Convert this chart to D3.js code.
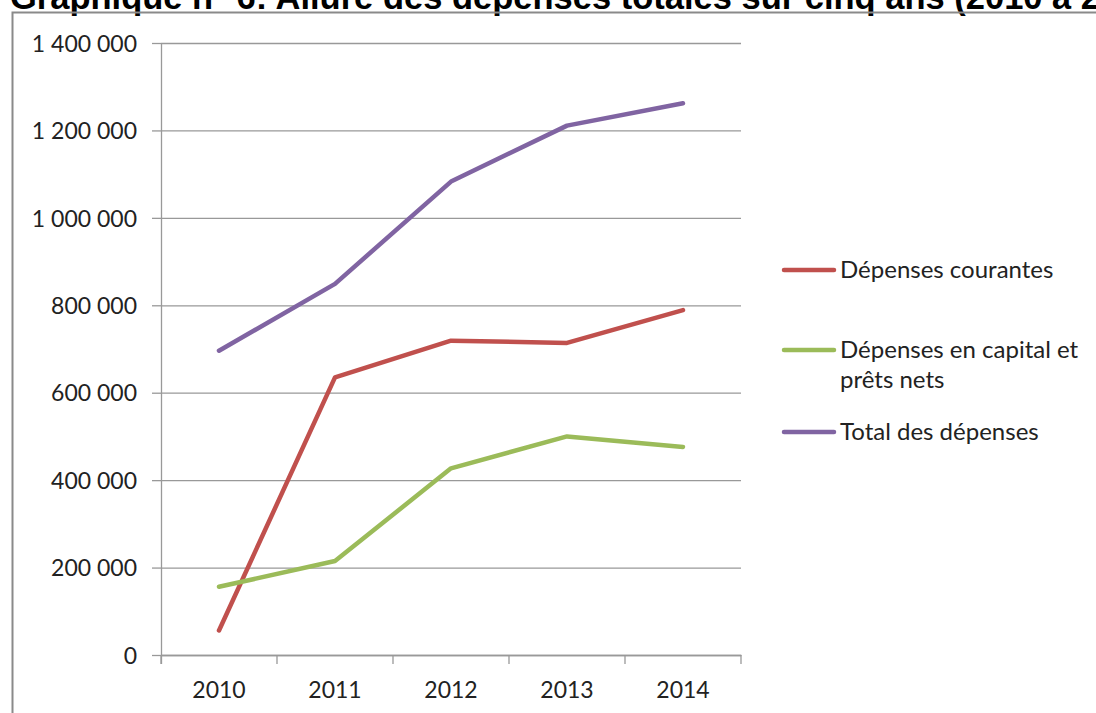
<!DOCTYPE html>
<html lang="fr">
<head>
	<meta charset="UTF-8">
	<title>Graphique</title>
	<style>
		body { margin: 0; background: #fff; }
		svg { display: block; }
		.tick-label { font-family: Lato, "Open Sans", sans-serif; font-size: 23px; fill: #222; }
		.legend text { font-family: Lato, "Open Sans", sans-serif; font-size: 24px; fill: #222; }
	</style>
</head>
<body>
	<script src="https://cdn.jsdelivr.net/npm/d3@7"></script>
	<script>
		var years = ["2010", "2011", "2012", "2013", "2014"];
		var courantes = [56000, 635000, 719000, 714000, 789000];
		var capital = [156000, 215000, 427000, 500000, 476000];
		var total = [696000, 849000, 1083000, 1211000, 1262000];
		var yTicks = [0, 200000, 400000, 600000, 800000, 1000000, 1200000, 1400000];
		var seriesNames = [["Dépenses courantes"], ["Dépenses en capital et", "prêts nets"], ["Total des dépenses"]];
		var seriesColors = ["#c0504d", "#9bbb59", "#8064a2"];

		var width = 1096,
			height = 713,
			plotLeft = 161,
			plotRight = 741,
			plotTop = 43,
			plotBottom = 655;

		var svg = d3.select("body").append("svg")
					.attr("width", width)
					.attr("height", height);

		// titre (coupé en haut dans l'original)
		svg.append("text")
			.attr("x", 10)
			.attr("y", 9)
			.attr("font-family", "Liberation Sans, Arial, sans-serif")
			.attr("font-weight", "bold")
			.attr("font-size", 34.5)
			.attr("fill", "#000")
			.text("Graphique n° 6: Allure des dépenses totales sur cinq ans (2010 à 2014)");

		// cadre
		svg.append("path")
			.attr("d", "M12.5," + height + "V12.5H" + width)
			.attr("fill", "none")
			.attr("stroke", "#8a8a8a")
			.attr("stroke-width", 2);

		var x = d3.scaleBand().domain(years).range([plotLeft, plotRight]);
		var y = d3.scaleLinear().domain([0, 1400000]).range([plotBottom, plotTop]);

		var fr = d3.formatLocale({ decimal: ",", thousands: " ", grouping: [3], currency: ["", " €"] });
		var fmt = fr.format(",.0f");

		// grille + axe Y
		var yAxis = d3.axisLeft(y).tickValues(yTicks).tickSize(9).tickPadding(15).tickFormat(fmt);
		var gy = svg.append("g")
			.attr("class", "y-axis")
			.attr("transform", "translate(" + plotLeft + ",0)")
			.call(yAxis);
		gy.select(".domain").remove();
		gy.selectAll(".tick line").attr("stroke", "#999").attr("stroke-width", 1.3);
		gy.selectAll(".tick text").attr("class", "tick-label").attr("dy", "0.36em");
		gy.selectAll(".tick")
			.append("line")
			.attr("class", "grid-line")
			.attr("stroke", "#999")
			.attr("stroke-width", 1.3)
			.attr("x1", 0)
			.attr("x2", plotRight - plotLeft);

		svg.append("line")
			.attr("x1", plotLeft + 0.5).attr("x2", plotLeft + 0.5)
			.attr("y1", plotTop).attr("y2", plotBottom + 9)
			.attr("stroke", "#999")
			.attr("stroke-width", 1.3);

		// axe X
		var gx = svg.append("g")
			.attr("class", "x-axis")
			.attr("transform", "translate(0," + plotBottom + ")")
			.call(d3.axisBottom(x).tickSize(0).tickPadding(27));
		gx.select(".domain").attr("stroke", "#999").attr("stroke-width", 1.3);
		gx.selectAll(".tick text").attr("class", "tick-label");
		gx.selectAll(".sep")
			.data(years.concat(["end"]))
			.enter().append("line")
			.attr("x1", function(d, i){ return plotLeft + i * x.step(); })
			.attr("x2", function(d, i){ return plotLeft + i * x.step(); })
			.attr("y1", 0)
			.attr("y2", 9)
			.attr("stroke", "#999")
			.attr("stroke-width", 1.3);

		// courbes
		var line = d3.line()
			.x(function(d, i){ return x(years[i]) + x.bandwidth() / 2; })
			.y(function(d){ return y(d); });

		[courantes, capital, total].forEach(function(s, k){
			svg.append("path")
				.datum(s)
				.attr("d", line)
				.attr("fill", "none")
				.attr("stroke", seriesColors[k])
				.attr("stroke-width", 4.5)
				.attr("stroke-linejoin", "round")
				.attr("stroke-linecap", "round");
		});

		// légende
		var legendY = [270, 350, 432];
		var lg = svg.append("g").attr("class", "legend");
		seriesNames.forEach(function(name, k){
			lg.append("line")
				.attr("x1", 784).attr("x2", 834)
				.attr("y1", legendY[k]).attr("y2", legendY[k])
				.attr("stroke", seriesColors[k])
				.attr("stroke-width", 4.5)
				.attr("stroke-linecap", "round");
			var t = lg.append("text")
				.attr("x", 840)
				.attr("y", legendY[k] + 8);
			name.forEach(function(part, j){
				t.append("tspan")
					.attr("x", 840)
					.attr("dy", j === 0 ? 0 : 30)
					.text(part);
			});
		});
	</script>
</body>
</html>
